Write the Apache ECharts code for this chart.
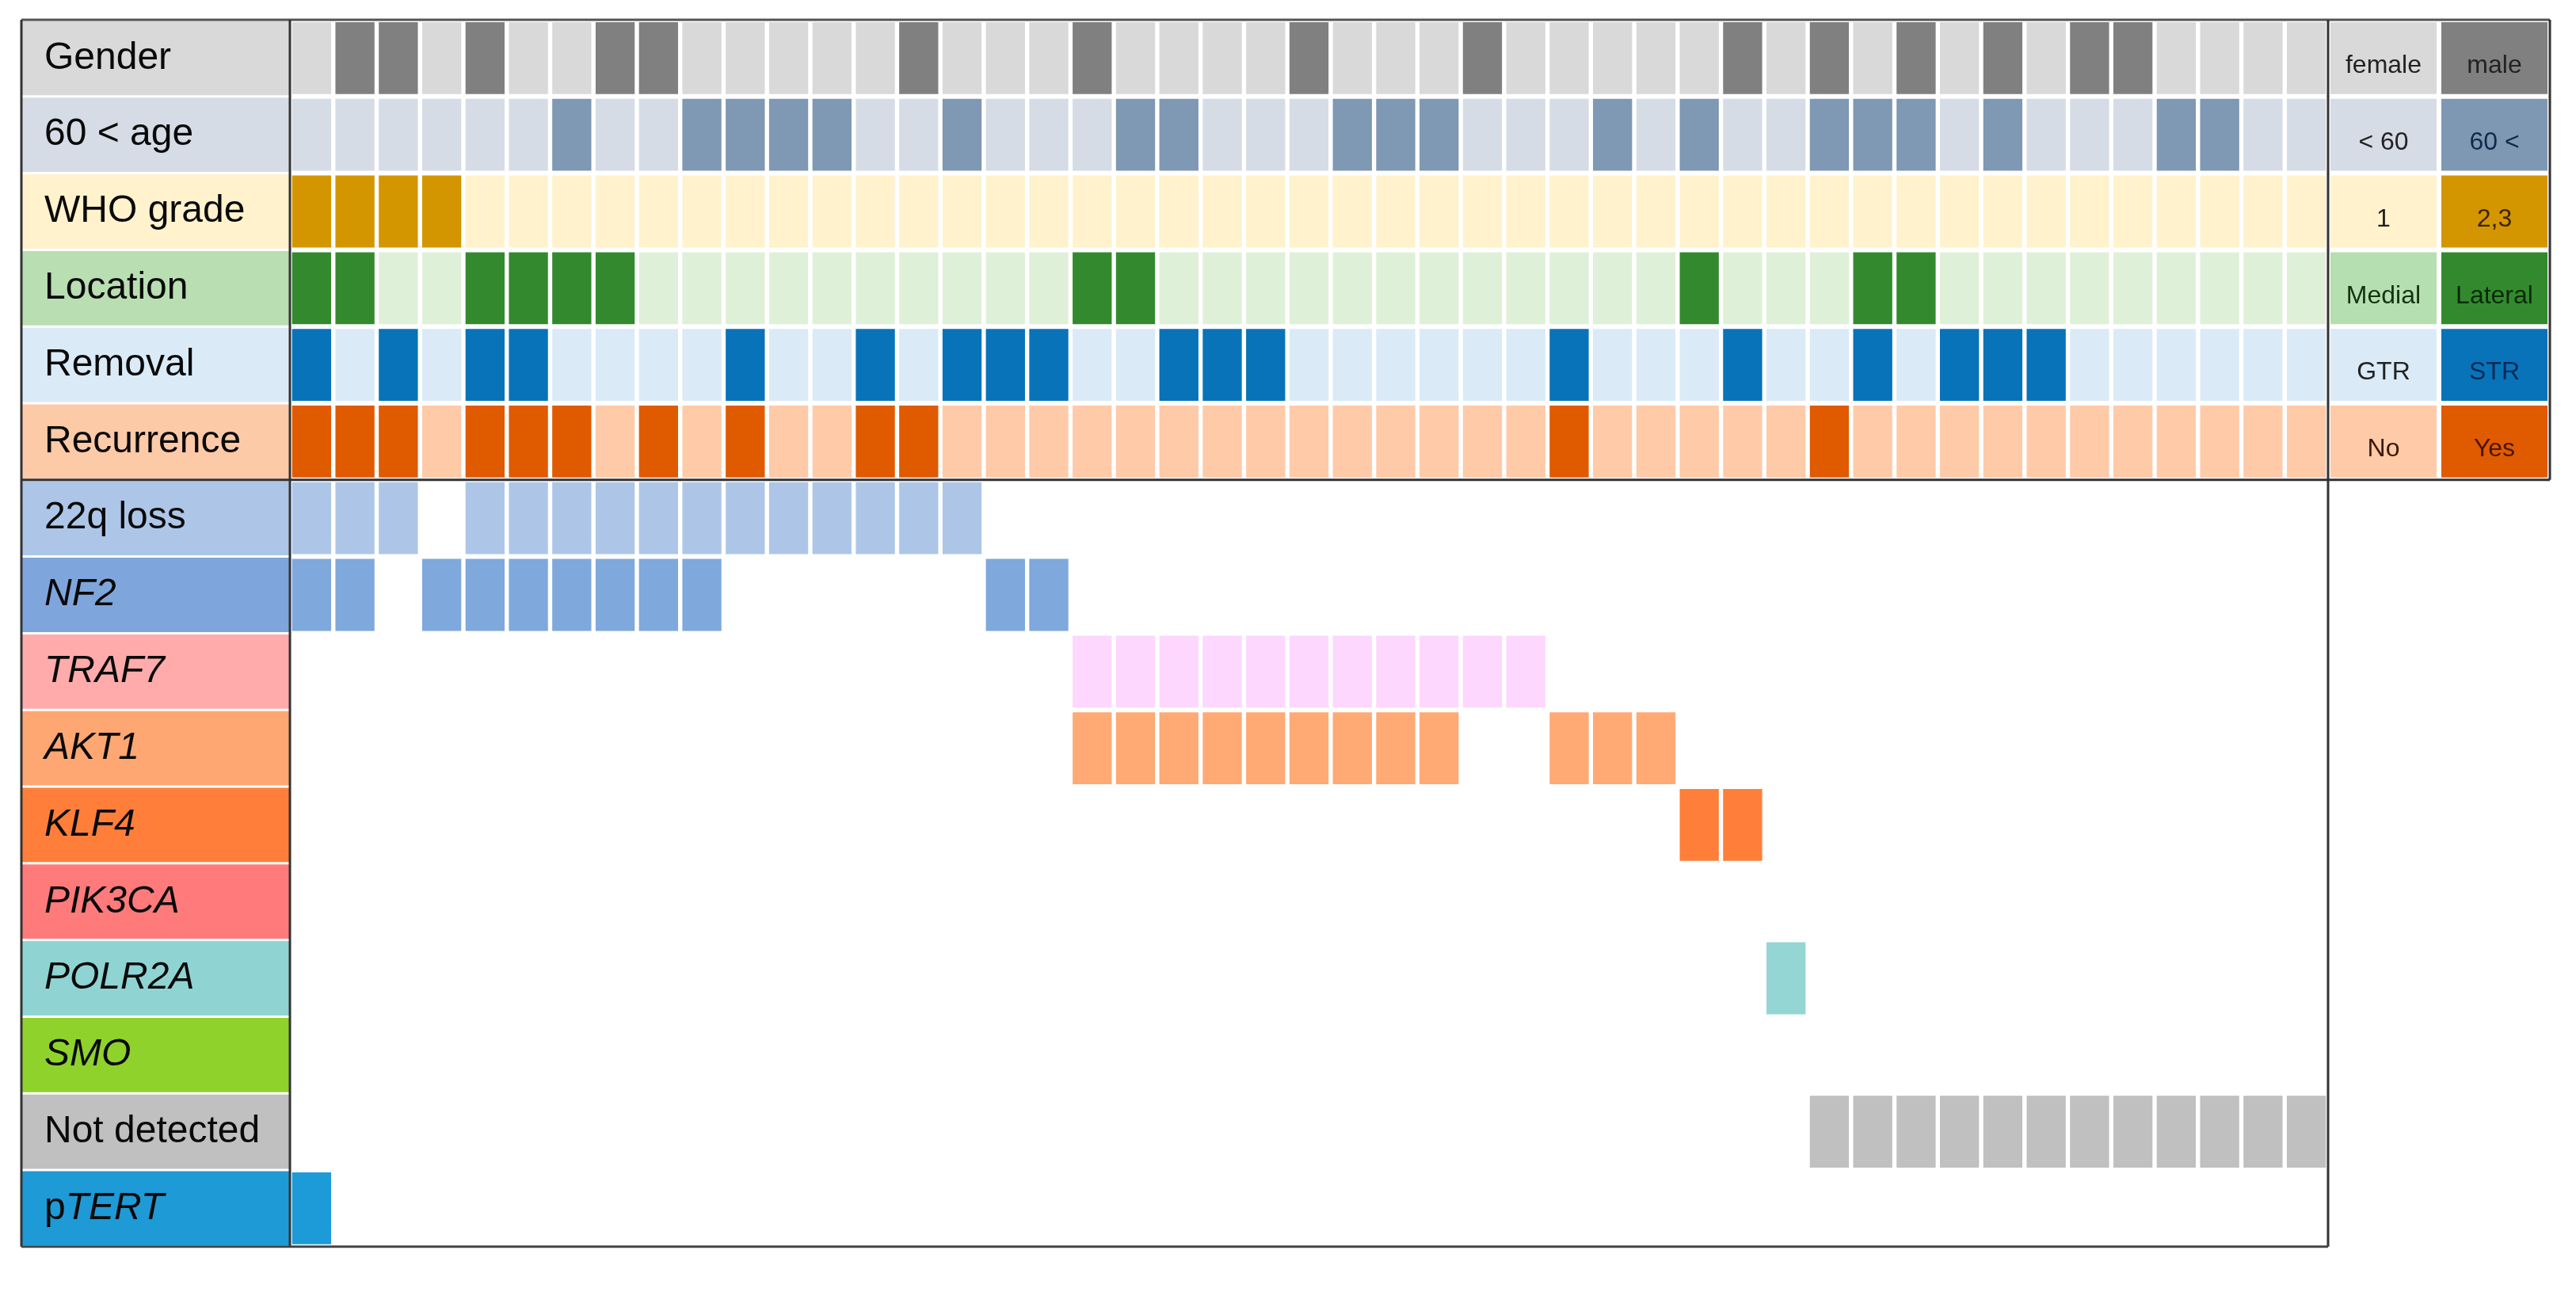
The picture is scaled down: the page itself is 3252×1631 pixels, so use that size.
<!DOCTYPE html>
<html>
<head>
<meta charset="utf-8">
<script src="https://cdn.jsdelivr.net/npm/echarts@6/dist/echarts.min.js"></script>
<style>
html,body{margin:0;padding:0;background:#fff;}
#chart{width:3252px;height:1631px;}
</style>
</head>
<body>
<div id="chart"></div>
<script>
// ---------------- DATA ----------------
const rowNames = ['Gender','60 < age','WHO grade','Location','Removal','Recurrence','22q loss','NF2','TRAF7','AKT1','KLF4','PIK3CA','POLR2A','SMO','Not detected','pTERT'];
const sampleCount = 47;
// clinical rows: columns (0-based) having the "second" category
const maleCols       = [1,2,4,7,8,14,18,23,27,33,35,37,39,41,42];
const ageOver60Cols  = [6,9,10,11,12,15,19,20,24,25,26,30,32,35,36,37,39,43,44];
const whoHighCols    = [0,1,2,3];
const lateralCols    = [0,1,4,5,6,7,18,19,32,36,37];
const strCols        = [0,2,4,5,10,13,15,16,17,20,21,22,29,33,36,38,39,40];
const recurrenceCols = [0,1,2,4,5,6,8,10,13,14,29,35];
// alteration rows: columns where alteration is present
const loss22qCols    = [0,1,2,4,5,6,7,8,9,10,11,12,13,14,15];
const nf2Cols        = [0,1,3,4,5,6,7,8,9,16,17];
const traf7Cols      = [18,19,20,21,22,23,24,25,26,27,28];
const akt1Cols       = [18,19,20,21,22,23,24,25,26,29,30,31];
const klf4Cols       = [32,33];
const pik3caCols     = [];
const polr2aCols     = [34];
const smoCols        = [];
const notDetectedCols= [35,36,37,38,39,40,41,42,43,44,45,46];
const ptertCols      = [0];
// legend
const legendLow  = ['female','< 60','1','Medial','GTR','No'];
const legendHigh = ['male','60 <','2,3','Lateral','STR','Yes'];

// ---------------- STYLE ----------------
const cellColors = [
  ['#d9d9d9','#808080'],
  ['#d6dce5','#7f98b3'],
  ['#fff2cc','#d39600'],
  ['#dff0d8','#338a2e'],
  ['#dbeaf7','#0873b9'],
  ['#ffcaa8','#e05a00'],
  [null,'#adc6e8'],
  [null,'#7fa8dc'],
  [null,'#fdd7fe'],
  [null,'#ffa974'],
  [null,'#ff7f3a'],
  [null,'#ff7b7b'],
  [null,'#93d6d4'],
  [null,'#8fd22c'],
  [null,'#c0c0c0'],
  [null,'#1d9ad8']
];
const labelBg = ['#d9d9d9','#d6dce5','#fff2cc','#b8deb2','#dbeaf7','#fdcaa8','#adc6e8','#7fa6dc','#ffabab','#ffa772','#ff7f3a','#ff7b7b','#8fd4d3','#8fd22c','#c0c0c0','#1e9ad6'];
const italicRows = {7:1,8:1,9:1,10:1,11:1,12:1,13:1};
const legendBg = [['#d9d9d9','#808080'],['#d6dce5','#7e98b4'],['#fff2cc','#d39600'],['#b5dfb0','#338a2e'],['#dbeaf7','#0873b9'],['#ffcaa8','#e05a00']];
const legendFg = [['#222','#222'],['#222','#13294b'],['#222','#3d2400'],['#123312','#0b2a0b'],['#222','#0b2a55'],['#3a1a00','#4a1500']];

// ---------------- LAYOUT ----------------
const TOP = 25, ROWH = 96.8, NROW = rowNames.length;
const BOTTOM = TOP + ROWH*NROW;
const LBL_L = 27, GRID_L = 366, GRID_R = 2939, LEG_R = 3219;
const SEP_Y = TOP + ROWH*6;

// ---------------- BUILD ----------------
const clinicalSets = [maleCols, ageOver60Cols, whoHighCols, lateralCols, strCols, recurrenceCols];
const geneSets = [loss22qCols, nf2Cols, traf7Cols, akt1Cols, klf4Cols, pik3caCols, polr2aCols, smoCols, notDetectedCols, ptertCols];
const mainData = [];
clinicalSets.forEach((set, r) => {
  for (let c = 0; c < sampleCount; c++) mainData.push([c, r, set.indexOf(c) >= 0 ? 1 : 0]);
});
geneSets.forEach((set, gi) => {
  set.forEach(c => mainData.push([c, gi + 6, 1]));
});
const samples = Array.from({length: sampleCount}, (_, i) => 'S' + (i + 1));
const labelData = rowNames.map((n, r) => [0, r]);
const legendData = [];
legendLow.forEach((t, r) => { legendData.push([0, r]); legendData.push([1, r]); });

const chart = echarts.init(document.getElementById('chart'), null, {renderer: 'canvas'});
const FONT = '"Liberation Sans", Arial, sans-serif';

const option = {
  backgroundColor: '#fff',
  animation: false,
  grid: [
    {left: LBL_L, top: TOP, width: GRID_L - LBL_L, height: BOTTOM - TOP},
    {left: GRID_L, top: TOP, width: GRID_R - GRID_L, height: BOTTOM - TOP},
    {left: GRID_R, top: TOP, width: LEG_R - GRID_R, height: SEP_Y - TOP}
  ],
  xAxis: [
    {type: 'category', gridIndex: 0, data: ['label'], show: false},
    {type: 'category', gridIndex: 1, data: samples, show: false},
    {type: 'category', gridIndex: 2, data: ['low','high'], show: false}
  ],
  yAxis: [
    {type: 'category', gridIndex: 0, data: rowNames, inverse: true, show: false},
    {type: 'category', gridIndex: 1, data: rowNames, inverse: true, show: false},
    {type: 'category', gridIndex: 2, data: rowNames.slice(0, 6), inverse: true, show: false}
  ],
  series: [
    {
      type: 'custom', xAxisIndex: 0, yAxisIndex: 0, data: labelData,
      encode: {x: 0, y: 1},
      renderItem: function (params, api) {
        const r = api.value(1);
        const p = api.coord([0, r]);
        const s = api.size([1, 1]);
        const x0 = p[0] - s[0] / 2, y0 = p[1] - s[1] / 2;
        let textStyle;
        if (rowNames[r] === 'pTERT') {
          textStyle = {text: '{n|p}{i|TERT}', rich: {
            n: {fontSize: 48, fontFamily: FONT, fill: '#0a0a0a'},
            i: {fontSize: 48, fontFamily: FONT, fontStyle: 'italic', fill: '#0a0a0a'}
          }};
        } else {
          textStyle = {text: rowNames[r], fontStyle: italicRows[r] ? 'italic' : 'normal'};
        }
        return {
          type: 'group',
          children: [
            {type: 'rect', shape: {x: x0, y: y0 + 1.5, width: s[0], height: s[1] - 3}, style: {fill: labelBg[r]}},
            {type: 'text', style: Object.assign({
              x: x0 + 29, y: p[1], fontSize: 48, fontFamily: FONT, fill: '#0a0a0a',
              align: 'left', verticalAlign: 'middle'
            }, textStyle)}
          ]
        };
      }
    },
    {
      type: 'custom', xAxisIndex: 1, yAxisIndex: 1, data: mainData,
      encode: {x: 0, y: 1},
      renderItem: function (params, api) {
        const c = api.value(0), r = api.value(1), v = api.value(2);
        const p = api.coord([c, r]);
        const s = api.size([1, 1]);
        return {
          type: 'rect',
          shape: {x: p[0] - s[0] / 2 + 2.7, y: p[1] - s[1] / 2 + 3, width: s[0] - 5.4, height: s[1] - 6},
          style: {fill: cellColors[r][v]}
        };
      }
    },
    {
      type: 'custom', xAxisIndex: 2, yAxisIndex: 2, data: legendData,
      encode: {x: 0, y: 1},
      renderItem: function (params, api) {
        const c = api.value(0), r = api.value(1);
        const p = api.coord([c, r]);
        const s = api.size([1, 1]);
        const txt = c === 0 ? legendLow[r] : legendHigh[r];
        return {
          type: 'group',
          children: [
            {type: 'rect', shape: {x: p[0] - s[0] / 2 + 3, y: p[1] - s[1] / 2 + 3, width: s[0] - 6, height: s[1] - 6}, style: {fill: legendBg[r][c]}},
            {type: 'text', style: {text: txt, x: p[0], y: p[1] + 10, fontSize: 32, fontFamily: FONT, fill: legendFg[r][c], align: 'center', verticalAlign: 'middle'}}
          ]
        };
      }
    }
  ],
  graphic: [
    {type: 'line', shape: {x1: LBL_L, y1: TOP, x2: LEG_R, y2: TOP}, style: {stroke: '#555', lineWidth: 3}, z: 100},
    {type: 'line', shape: {x1: LBL_L, y1: TOP, x2: LBL_L, y2: BOTTOM}, style: {stroke: '#333', lineWidth: 3}, z: 100},
    {type: 'line', shape: {x1: GRID_L, y1: TOP, x2: GRID_L, y2: BOTTOM}, style: {stroke: '#333', lineWidth: 3}, z: 100},
    {type: 'line', shape: {x1: GRID_R, y1: TOP, x2: GRID_R, y2: BOTTOM}, style: {stroke: '#333', lineWidth: 3}, z: 100},
    {type: 'line', shape: {x1: LBL_L, y1: BOTTOM, x2: GRID_R, y2: BOTTOM}, style: {stroke: '#444', lineWidth: 3}, z: 100},
    {type: 'line', shape: {x1: LBL_L, y1: SEP_Y, x2: LEG_R, y2: SEP_Y}, style: {stroke: '#333', lineWidth: 3}, z: 100},
    {type: 'line', shape: {x1: LEG_R, y1: TOP, x2: LEG_R, y2: SEP_Y}, style: {stroke: '#333', lineWidth: 3}, z: 100}
  ]
};
chart.setOption(option);
</script>
</body>
</html>
